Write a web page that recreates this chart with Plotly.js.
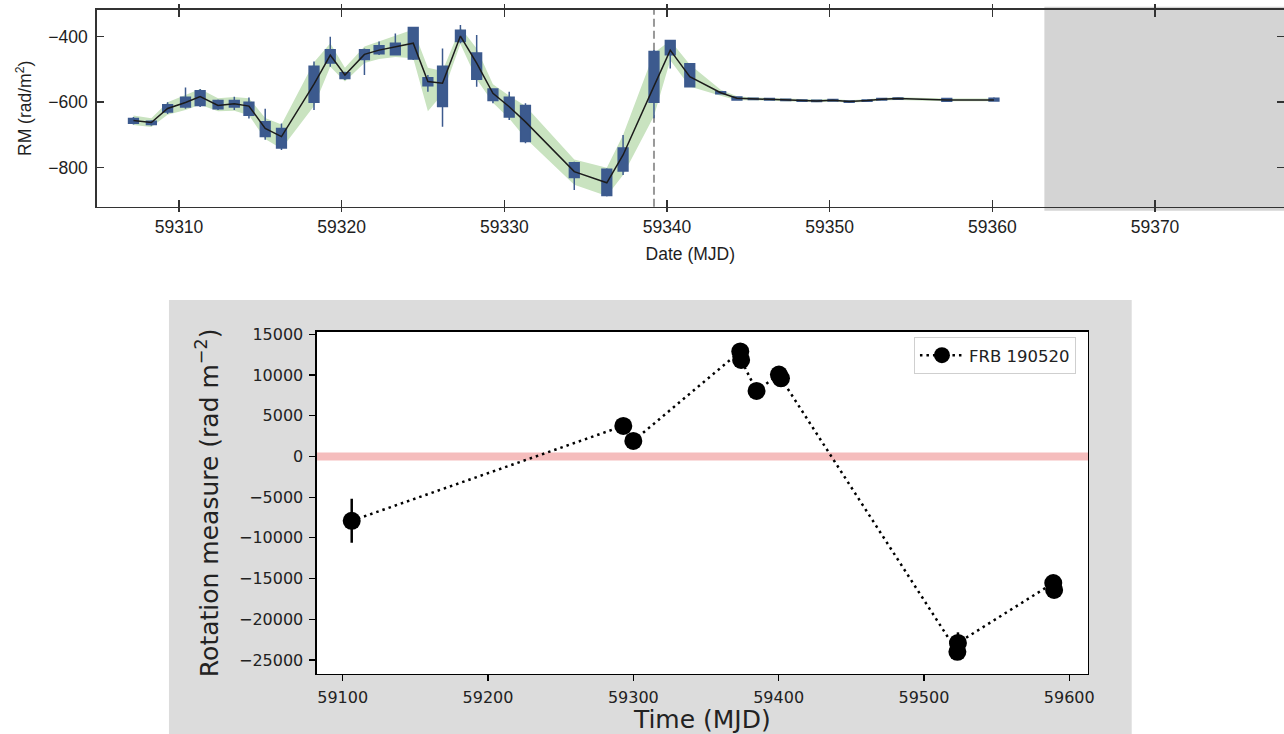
<!DOCTYPE html>
<html>
<head>
<meta charset="utf-8">
<script src="https://cdn.plot.ly/plotly-3.0.1.min.js"></script>
<style>
  html, body { margin: 0; padding: 0; background: #ffffff; }
  #chart { width: 1284px; height: 734px; }
</style>
</head>
<body>
<div id="chart"></div>
<script>
// ---- Upper panel: daily RM monitoring ----
const rmDate = [59307.2, 59308.3, 59309.3, 59310.4, 59311.3, 59312.4, 59313.4, 59314.3, 59315.3, 59316.3,
                59318.3, 59319.3, 59320.2, 59321.4, 59322.3, 59323.3, 59324.4, 59325.3, 59326.2, 59327.3,
                59328.3, 59329.3, 59330.3, 59331.3, 59334.3, 59336.3, 59337.3, 59339.2, 59340.2, 59341.4,
                59343.3, 59344.3, 59345.3, 59346.3, 59347.3, 59348.3, 59349.2, 59350.2, 59351.2, 59352.3,
                59353.2, 59354.2, 59357.2, 59360.1];
const rmValue = [-656, -662, -619, -601, -583, -610, -605, -612, -680, -705,
                 -545, -456, -517, -454, -441, -430, -420, -537, -542, -398,
                 -481, -573, -614, -660, -812, -846, -761, -551, -441, -522,
                 -571, -588, -590, -591, -593, -595, -596, -594, -598, -595,
                 -591, -589, -593, -593];
// smoothed uncertainty envelope
const rmBandHigh = [-641, -649, -600, -578, -560, -588, -584, -588, -648, -668,
                    -478, -420, -495, -430, -415, -398, -378, -495, -505, -372,
                    -436, -545, -580, -612, -775, -800, -700, -450, -412, -485,
                    -562, -582, -586, -587, -589, -591, -592, -590, -594, -591,
                    -587, -585, -589, -589];
const rmBandLow = [-670, -676, -638, -624, -608, -628, -626, -640, -712, -742,
                   -612, -492, -537, -480, -468, -462, -466, -628, -575, -422,
                   -530, -602, -650, -710, -852, -886, -822, -642, -472, -552,
                   -580, -594, -594, -595, -597, -599, -600, -598, -602, -599,
                   -595, -593, -597, -597];
// per-day posterior spread: dense core and full extent
const rmCoreHigh = [-650, -658, -608, -585, -565, -595, -595, -600, -660, -680,
                    -490, -440, -510, -440, -428, -420, -372, -525, -490, -380,
                    -450, -560, -585, -610, -785, -805, -740, -445, -412, -483,
                    -568, -584, -588, -589, -591, -593, -594, -592, -596, -593,
                    -589, -587, -589, -588];
const rmCoreLow = [-664, -668, -630, -615, -610, -620, -615, -640, -705, -740,
                   -600, -480, -528, -470, -452, -455, -468, -550, -613, -415,
                   -530, -595, -645, -720, -830, -885, -810, -600, -455, -553,
                   -574, -593, -592, -593, -595, -597, -598, -596, -600, -597,
                   -593, -591, -597, -596];
const rmTailHigh = [-645, -655, -600, -555, -560, -592, -583, -586, -620, -665,
                    -476, -400, -507, -436, -415, -390, -370, -517, -436, -364,
                    -395, -558, -568, -603, -782, -802, -700, -441, -410, -481,
                    -567, -583, -587, -588, -590, -592, -593, -591, -595, -592,
                    -588, -586, -588, -585];
const rmTailLow = [-668, -672, -636, -620, -615, -624, -624, -650, -715, -746,
                   -624, -492, -532, -517, -456, -456, -471, -568, -675, -420,
                   -553, -603, -654, -725, -868, -888, -822, -649, -497, -555,
                   -576, -594, -593, -594, -596, -598, -599, -597, -601, -598,
                   -594, -592, -598, -597];
const eventDate = 59339.2;
const gapStart = 59363.2;
const dateTicks = [59310, 59320, 59330, 59340, 59350, 59360, 59370];
const rmTicks = [-800, -600, -400];

// ---- Lower panel: FRB 190520 rotation measure ----
const frbMjd = [59106.2, 59293.1, 59300.0, 59373.6, 59374.2, 59384.8, 59400.2, 59401.6, 59523.0, 59523.4, 59589.0, 59589.6];
const frbRm = [-7900, 3750, 1900, 12900, 11850, 8050, 10050, 9600, -24000, -22900, -15550, -16400];
const frbRmErr = [2700, 500, 500, 500, 500, 500, 500, 500, 500, 1300, 500, 500];
const timeTicks = [59100, 59200, 59300, 59400, 59500, 59600];
const rotTicks = [-25000, -20000, -15000, -10000, -5000, 0, 5000, 10000, 15000];

const blue = '#3c5a8e';
const green = 'rgb(201,227,192)';
const sansTop = 'Liberation Sans, Arial, sans-serif';
const sansBottom = 'DejaVu Sans, sans-serif';

const traces = [
  // envelope (base subplot, underneath everything else)
  { x: rmDate, y: rmBandHigh, xaxis: 'x', yaxis: 'y', mode: 'lines',
    line: { width: 0, color: green }, hoverinfo: 'skip', showlegend: false },
  { x: rmDate, y: rmBandLow, xaxis: 'x', yaxis: 'y', mode: 'lines', fill: 'tonexty',
    fillcolor: green, line: { width: 0, color: green }, hoverinfo: 'skip', showlegend: false },
  // per-day distributions (overlay subplot, drawn above the envelope)
  { type: 'box', x: rmDate, q1: rmCoreLow, median: rmValue, q3: rmCoreHigh,
    lowerfence: rmTailLow, upperfence: rmTailHigh, xaxis: 'x3', yaxis: 'y',
    width: 0.6, whiskerwidth: 0, boxpoints: false,
    line: { color: blue, width: 1.5 }, fillcolor: blue, showlegend: false, hoverinfo: 'skip' },
  // best-fit track
  { x: rmDate, y: rmValue, xaxis: 'x3', yaxis: 'y', mode: 'lines',
    line: { color: '#1c1c1c', width: 1.5 }, hoverinfo: 'skip', showlegend: false },
  // carrier for the right-hand tick overlay
  { x: rmDate.slice(0, 1), y: rmValue.slice(0, 1), xaxis: 'x', yaxis: 'y3', mode: 'markers',
    marker: { opacity: 0 }, hoverinfo: 'skip', showlegend: false },
  // FRB 190520
  { x: frbMjd, y: frbRm, xaxis: 'x2', yaxis: 'y2', mode: 'lines+markers', name: 'FRB 190520',
    error_y: { type: 'data', array: frbRmErr, color: '#000000', thickness: 2.5, width: 0 },
    line: { color: '#000000', width: 2.5, dash: '2.5px,4px' },
    marker: { color: '#000000', size: 18 } }
];

const topAxisFont = { family: sansTop, size: 17.5, color: '#1e1e1e' };
const botAxisFont = { family: sansBottom, size: 16, color: '#222222' };

const layout = {
  width: 1284, height: 734,
  margin: { l: 0, r: 0, t: 0, b: 0 },
  paper_bgcolor: '#ffffff',
  plot_bgcolor: 'rgba(0,0,0,0)',
  showlegend: true,
  boxmode: 'overlay',
  xaxis: {
    domain: [0.0753, 1], anchor: 'y', range: [59304.94, 59377.93],
    tickvals: dateTicks, tickformat: 'd', ticks: 'outside', ticklen: 4, tickwidth: 1.5, tickcolor: '#333',
    showline: true, linecolor: '#333', linewidth: 1.5, mirror: 'ticks',
    showgrid: false, zeroline: false, tickfont: topAxisFont, ticklabelstandoff: 0,
    title: { text: 'Date (MJD)', font: topAxisFont, standoff: 11 }
  },
  xaxis3: {
    overlaying: 'x', anchor: 'y', range: [59304.94, 59377.93],
    tickvals: dateTicks, ticks: 'inside', ticklen: 7, tickwidth: 1.5, tickcolor: '#333',
    showticklabels: false, showline: false, mirror: 'ticks', showgrid: false, zeroline: false
  },
  yaxis: {
    domain: [0.7184, 0.9864], anchor: 'x', range: [-919, -318.5],
    tickvals: rmTicks, tickformat: 'd', ticks: 'inside', ticklen: 7, tickwidth: 1.5, tickcolor: '#333',
    showline: true, linecolor: '#333', linewidth: 1.5,
    showgrid: false, zeroline: false, tickfont: topAxisFont, ticklabelstandoff: 4,
    title: { text: 'RM (rad/m<sup>2</sup>)', font: topAxisFont, standoff: 12 }
  },
  yaxis3: {
    overlaying: 'y', anchor: 'x', side: 'right', range: [-919, -318.5],
    tickvals: rmTicks, ticks: 'inside', ticklen: 7, tickwidth: 1.5, tickcolor: '#333',
    showticklabels: false, showline: false, showgrid: false, zeroline: false
  },
  xaxis2: {
    domain: [0.24665, 0.84735], anchor: 'y2', range: [59082.1, 59612.9],
    tickvals: timeTicks, tickformat: 'd', ticks: 'outside', ticklen: 6, tickwidth: 1.2, tickcolor: '#000',
    showline: true, linecolor: '#000', linewidth: 1.2, mirror: true,
    showgrid: false, zeroline: false, tickfont: botAxisFont, ticklabelstandoff: 3,
    title: { text: 'Time (MJD)', font: { family: sansBottom, size: 25, color: '#222' }, standoff: 6 }
  },
  yaxis2: {
    domain: [0.08174, 0.5481], anchor: 'x2', range: [-26719, 15319],
    tickvals: rotTicks, tickformat: 'd', ticks: 'outside', ticklen: 6, tickwidth: 1.2, tickcolor: '#000',
    showline: true, linecolor: '#000', linewidth: 1.2, mirror: true,
    showgrid: false, zeroline: false, tickfont: botAxisFont, ticklabelstandoff: 3,
    title: { text: 'Rotation measure (rad m<sup>\u22122</sup>)', font: { family: sansBottom, size: 25, color: '#222' }, standoff: 13 }
  },
  legend: {
    x: 0.7118, xanchor: 'left', y: 0.5157, yanchor: 'middle',
    bgcolor: 'rgba(255,255,255,0.85)', bordercolor: '#cfcfcf', borderwidth: 1,
    font: { family: sansBottom, size: 16.5, color: '#222' }, itemwidth: 44
  },
  shapes: [
    // figure background of the lower panel
    { type: 'rect', xref: 'paper', yref: 'paper', x0: 0.1316, x1: 0.8814, y0: 0, y1: 0.5913,
      fillcolor: '#dcdcdc', line: { width: 0 }, layer: 'below' },
    { type: 'rect', xref: 'paper', yref: 'paper', x0: 0.24665, x1: 0.84735, y0: 0.08174, y1: 0.5481,
      fillcolor: '#ffffff', line: { width: 0 }, layer: 'below' },
    // period without data
    { type: 'rect', xref: 'x', yref: 'paper', x0: gapStart, x1: 59400, y0: 0.7129, y1: 0.9909,
      fillcolor: '#d4d4d4', line: { width: 0 }, layer: 'below' },
    // event marker
    { type: 'line', xref: 'x', yref: 'y domain', x0: eventDate, x1: eventDate, y0: 0, y1: 1,
      line: { color: '#999999', width: 2, dash: '8px,4px' }, layer: 'below' },
    // zero RM reference
    { type: 'line', xref: 'x2 domain', yref: 'y2', x0: 0, x1: 1, y0: 0, y1: 0,
      line: { color: 'rgb(245,189,189)', width: 8 }, layer: 'below' }
  ]
};

Plotly.newPlot('chart', traces, layout, { staticPlot: true, displayModeBar: false });
</script>
</body>
</html>
